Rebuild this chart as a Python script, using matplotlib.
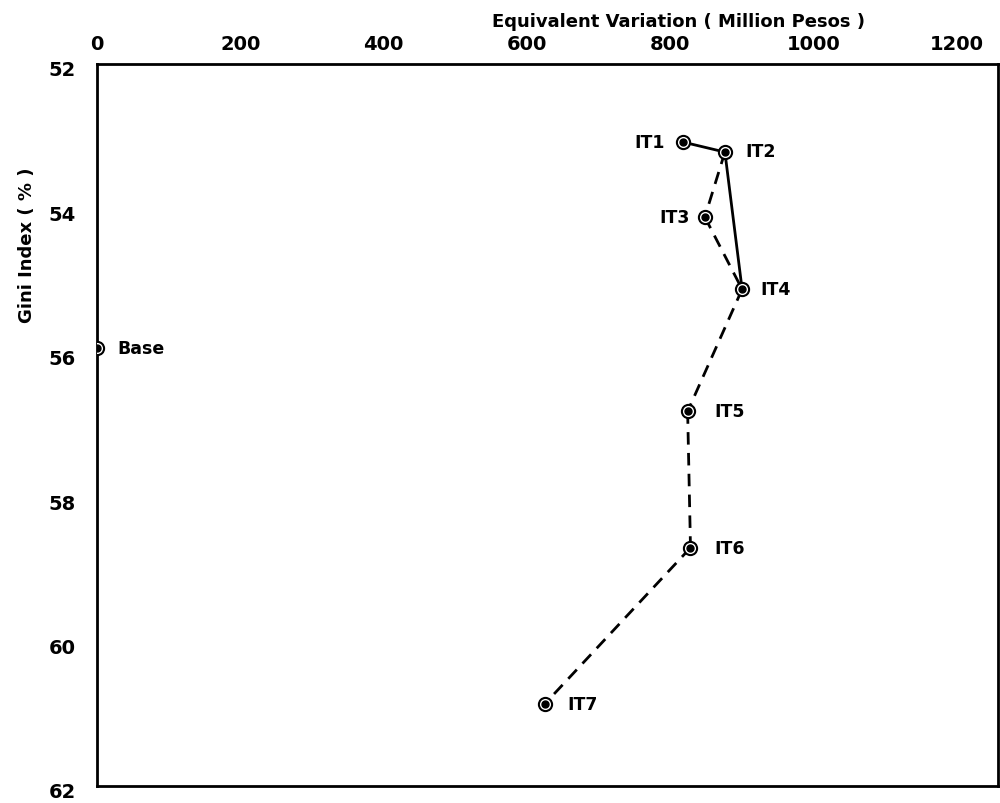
import matplotlib
matplotlib.use("Agg")
import matplotlib.pyplot as plt
import matplotlib.transforms as mtransforms

# Data
names = ["Base", "IT1", "IT2", "IT3", "IT4", "IT5", "IT6", "IT7"]
ev = [0, 817, 876, 848, 900, 824, 828, 625]          # Equivalent variation (million pesos)
gini = [55.93, 53.08, 53.22, 54.12, 55.12, 56.81, 58.70, 60.86]  # Gini index (%)

solid_links = [("IT1", "IT2"), ("IT2", "IT4")]
dashed_links = [("IT2", "IT3"), ("IT3", "IT4"), ("IT4", "IT5"), ("IT5", "IT6"), ("IT6", "IT7")]

x_ticks = [0, 200, 400, 600, 800, 1000, 1200]
y_ticks = [52, 54, 56, 58, 60, 62]

# label offsets in px (dx, dy) and alignment
label_offsets = {
    "Base": (20, 0, "left"),
    "IT1": (-18, 0, "right"),
    "IT2": (20, -1, "left"),
    "IT3": (-15, 0, "right"),
    "IT4": (18, 0, "left"),
    "IT5": (27, 0, "left"),
    "IT6": (24, 0, "left"),
    "IT7": (22, 0, "left"),
}

W, H = 1000, 804
fig = plt.figure(figsize=(W / 100, H / 100), dpi=100)
ax = fig.add_axes([0.097, 1 - 787 / H, 0.998 - 0.097, (787 - 65) / H])

idx = {n: i for i, n in enumerate(names)}

for a, b in solid_links:
    ax.plot([ev[idx[a]], ev[idx[b]]], [gini[idx[a]], gini[idx[b]]],
            color="black", lw=2.0, solid_capstyle="butt", zorder=2)
for a, b in dashed_links:
    ax.plot([ev[idx[a]], ev[idx[b]]], [gini[idx[a]], gini[idx[b]]],
            color="black", lw=2.0, linestyle=(0, (4.5, 3)), zorder=2)

ax.plot(ev, gini, linestyle="none", marker="o", markersize=9.5,
        markerfacecolor="white", markeredgecolor="black", markeredgewidth=1.5, zorder=3)
ax.plot(ev, gini, linestyle="none", marker="o", markersize=5,
        markerfacecolor="black", markeredgecolor="black", zorder=4)

for n in names:
    dx, dy, ha = label_offsets[n]
    i = idx[n]
    ax.annotate(n, (ev[i], gini[i]), xytext=(dx * 0.72, -dy * 0.72),
                textcoords="offset points", ha=ha, va="center",
                fontsize=12.5, fontweight="bold", family="DejaVu Sans")

ax.set_xlim(0, 1257)
ax.set_ylim(62, 52)
ax.xaxis.tick_top()
ax.set_xticks(x_ticks)
ax.set_yticks(y_ticks)
ax.tick_params(length=0, labelsize=14)
ax.tick_params(axis="x", pad=8)
ax.tick_params(axis="y", pad=15)
shift = mtransforms.ScaledTranslation(0, -4 / 100, fig.dpi_scale_trans)
for lab in ax.get_xticklabels():
    lab.set_fontweight("bold")
for lab in ax.get_yticklabels():
    lab.set_fontweight("bold")
    lab.set_transform(lab.get_transform() + shift)

fig.text(679 / W, 1 - 22 / H, "Equivalent Variation ( Million Pesos )",
         fontsize=13, fontweight="bold", ha="center", va="center")
fig.text(27 / W, 1 - 245 / H, "Gini Index ( % )", rotation=90,
         fontsize=13, fontweight="bold", ha="center", va="center")

for s in ax.spines.values():
    s.set_linewidth(2)

fig.savefig("out.png", dpi=100)
